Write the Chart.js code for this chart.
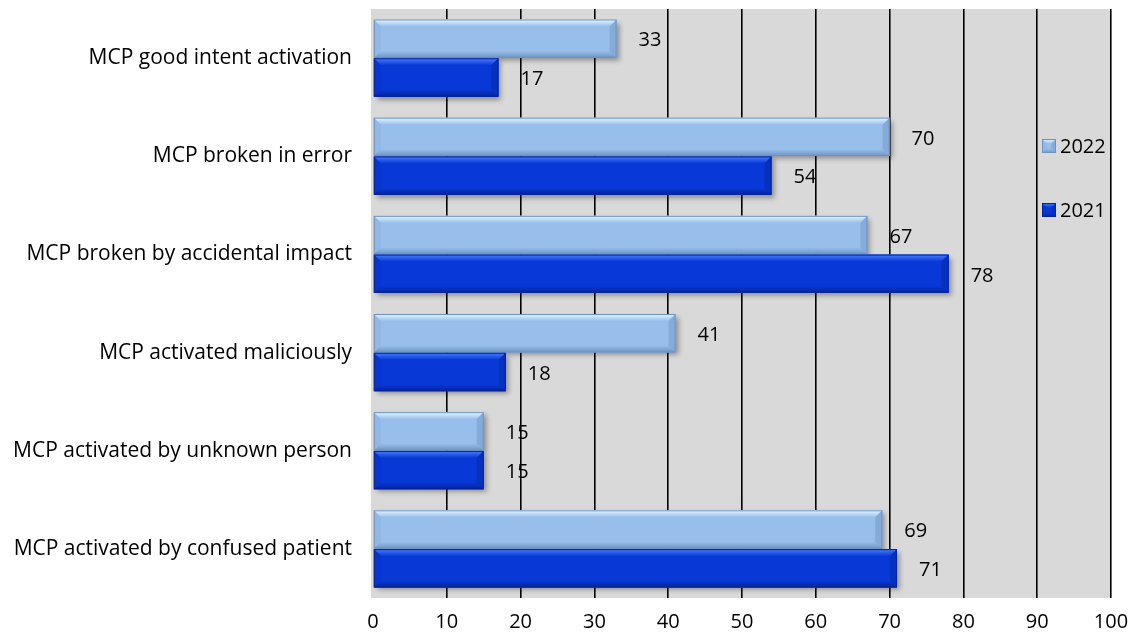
<!DOCTYPE html>
<html>
<head>
<meta charset="utf-8">
<script src="https://cdn.jsdelivr.net/npm/chart.js@4"></script>
<style>
  html, body { margin: 0; padding: 0; background: #ffffff; }
  #wrap { width: 1138px; height: 641px; position: relative; }
</style>
</head>
<body>
<div id="wrap"><canvas id="c"></canvas></div>
<script>
// Call-point activation causes, by year
const categories = [
  'MCP good intent activation',
  'MCP broken in error',
  'MCP broken by accidental impact',
  'MCP activated maliciously',
  'MCP activated by unknown person',
  'MCP activated by confused patient'
];
const values2022 = [33, 70, 67, 41, 15, 69];
const values2021 = [17, 54, 78, 18, 15, 71];
const seriesNames = ['2022', '2021'];
const xTicks = [0, 10, 20, 30, 40, 50, 60, 70, 80, 90, 100];

const FONT = '"Open Sans", Lato, sans-serif';

// colour sets per series: base, highlight, dark edge
const palette = [
  { base: '#98BFEC', light: '#E4F8FF', dark: '#6E93C2', edge: '#7EA3D2' },
  { base: '#0839D6', light: '#4A7DFF', dark: '#04229A', edge: '#062DB2' }
];

function bevelBar(ctx, x0, x1, top, bottom, pal) {
  const left = Math.min(x0, x1), right = Math.max(x0, x1);
  const b = Math.min(7, (bottom - top) / 3, (right - left) / 2);
  if (right - left < 1) return;
  ctx.save();
  // top highlight band
  let g = ctx.createLinearGradient(0, top, 0, top + b);
  g.addColorStop(0, pal.light);
  g.addColorStop(1, pal.base);
  ctx.fillStyle = g;
  ctx.beginPath();
  ctx.moveTo(left, top); ctx.lineTo(right, top);
  ctx.lineTo(right - b, top + b); ctx.lineTo(left + b, top + b);
  ctx.closePath(); ctx.fill();
  // bottom shade band
  g = ctx.createLinearGradient(0, bottom - b, 0, bottom);
  g.addColorStop(0, pal.base);
  g.addColorStop(1, pal.dark);
  ctx.fillStyle = g;
  ctx.beginPath();
  ctx.moveTo(left, bottom); ctx.lineTo(right, bottom);
  ctx.lineTo(right - b, bottom - b); ctx.lineTo(left + b, bottom - b);
  ctx.closePath(); ctx.fill();
  // right end band
  ctx.fillStyle = pal.edge;
  ctx.globalAlpha = 0.7;
  ctx.beginPath();
  ctx.moveTo(right, top); ctx.lineTo(right - b, top + b);
  ctx.lineTo(right - b, bottom - b); ctx.lineTo(right, bottom);
  ctx.closePath(); ctx.fill();
  // left end band
  ctx.globalAlpha = 0.25;
  ctx.beginPath();
  ctx.moveTo(left, top); ctx.lineTo(left + b, top + b);
  ctx.lineTo(left + b, bottom - b); ctx.lineTo(left, bottom);
  ctx.closePath(); ctx.fill();
  ctx.globalAlpha = 1;
  // outline
  ctx.strokeStyle = pal.dark;
  ctx.lineWidth = 1;
  ctx.strokeRect(left + 0.5, top + 0.5, right - left - 1, bottom - top - 1);
  ctx.restore();
}

// gray plot background
const plotBackground = {
  id: 'plotBackground',
  beforeDraw(chart) {
    const { ctx, chartArea: a } = chart;
    ctx.save();
    ctx.fillStyle = '#D9D9D9';
    ctx.fillRect(a.left - 2, a.top, a.right - a.left + 2, a.bottom - a.top);
    ctx.restore();
  }
};

// soft drop shadow under bars, then bevel overlay
const barStyle = {
  id: 'barStyle',
  beforeDatasetsDraw(chart) {
    const ctx = chart.ctx;
    ctx.save();
    ctx.shadowColor = 'rgba(0,0,0,0.35)';
    ctx.shadowBlur = 5;
    ctx.shadowOffsetX = 3;
    ctx.shadowOffsetY = 3;
  },
  afterDatasetsDraw(chart) {
    const ctx = chart.ctx;
    ctx.restore();
    chart.data.datasets.forEach((ds, i) => {
      const meta = chart.getDatasetMeta(i);
      meta.data.forEach(el => {
        const p = el.getProps(['x', 'y', 'base', 'height'], true);
        bevelBar(ctx, p.base, p.x, p.y - p.height / 2, p.y + p.height / 2, palette[i]);
      });
    });
  }
};

// value labels beyond bar ends
const valueLabels = {
  id: 'valueLabels',
  afterDatasetsDraw(chart) {
    const ctx = chart.ctx;
    ctx.save();
    ctx.font = '20px ' + FONT;
    ctx.fillStyle = '#000';
    ctx.textAlign = 'left';
    ctx.textBaseline = 'middle';
    chart.data.datasets.forEach((ds, i) => {
      const meta = chart.getDatasetMeta(i);
      meta.data.forEach((el, j) => {
        const p = el.getProps(['x', 'y'], true);
        ctx.fillText(String(ds.data[j]), p.x + 22, p.y + 2);
      });
    });
    ctx.restore();
  }
};

// legend drawn inside the right side of the plot
const sideLegend = {
  id: 'sideLegend',
  afterDraw(chart) {
    const ctx = chart.ctx;
    const a = chart.chartArea;
    ctx.save();
    ctx.font = '20px ' + FONT;
    ctx.textBaseline = 'middle';
    ctx.textAlign = 'left';
    const x = a.right - 69;
    const ys = [146, 210];
    chart.data.datasets.forEach((ds, i) => {
      const y = ys[i];
      const s = 14;
      ctx.fillStyle = palette[i].base;
      ctx.fillRect(x, y - s / 2, s, s);
      bevelBar(ctx, x, x + s, y - s / 2, y + s / 2, palette[i]);
      ctx.fillStyle = '#000';
      ctx.fillText(ds.label, x + s + 4, y + 1);
    });
    ctx.restore();
  }
};

new Chart(document.getElementById('c'), {
  type: 'bar',
  data: {
    labels: categories,
    datasets: [
      { label: seriesNames[0], data: values2022, backgroundColor: palette[0].base },
      { label: seriesNames[1], data: values2021, backgroundColor: palette[1].base }
    ]
  },
  options: {
    indexAxis: 'y',
    responsive: true,
    maintainAspectRatio: false,
    animation: false,
    layout: { padding: { top: 9, right: 27, left: 0, bottom: 0 } },
    datasets: { bar: { categoryPercentage: 0.79, barPercentage: 0.99, borderWidth: 0 } },
    plugins: {
      legend: { display: false },
      tooltip: { enabled: false }
    },
    scales: {
      x: {
        min: 0,
        max: 100,
        afterBuildTicks(scale) { scale.ticks = xTicks.map(v => ({ value: v })); },
        afterFit(scale) {
          scale.height = 43;
          scale.paddingLeft = 0;
          scale.paddingRight = 0;
        },
        border: { display: false },
        grid: {
          drawTicks: false,
          color: ctx => (ctx.tick && ctx.tick.value === 0) ? 'rgba(0,0,0,0)' : '#000000',
          lineWidth: 1.6
        },
        ticks: {
          color: '#000',
          font: { family: FONT, size: 20 },
          padding: 12
        }
      },
      y: {
        afterFit(scale) {
          scale.width = 373;
          scale.paddingTop = 0;
          scale.paddingBottom = 0;
        },
        border: { display: false },
        grid: { display: false, drawTicks: false },
        ticks: {
          color: '#000',
          font: { family: FONT, size: 21 },
          padding: 21
        }
      }
    }
  },
  plugins: [plotBackground, barStyle, valueLabels, sideLegend]
});
</script>
</body>
</html>
